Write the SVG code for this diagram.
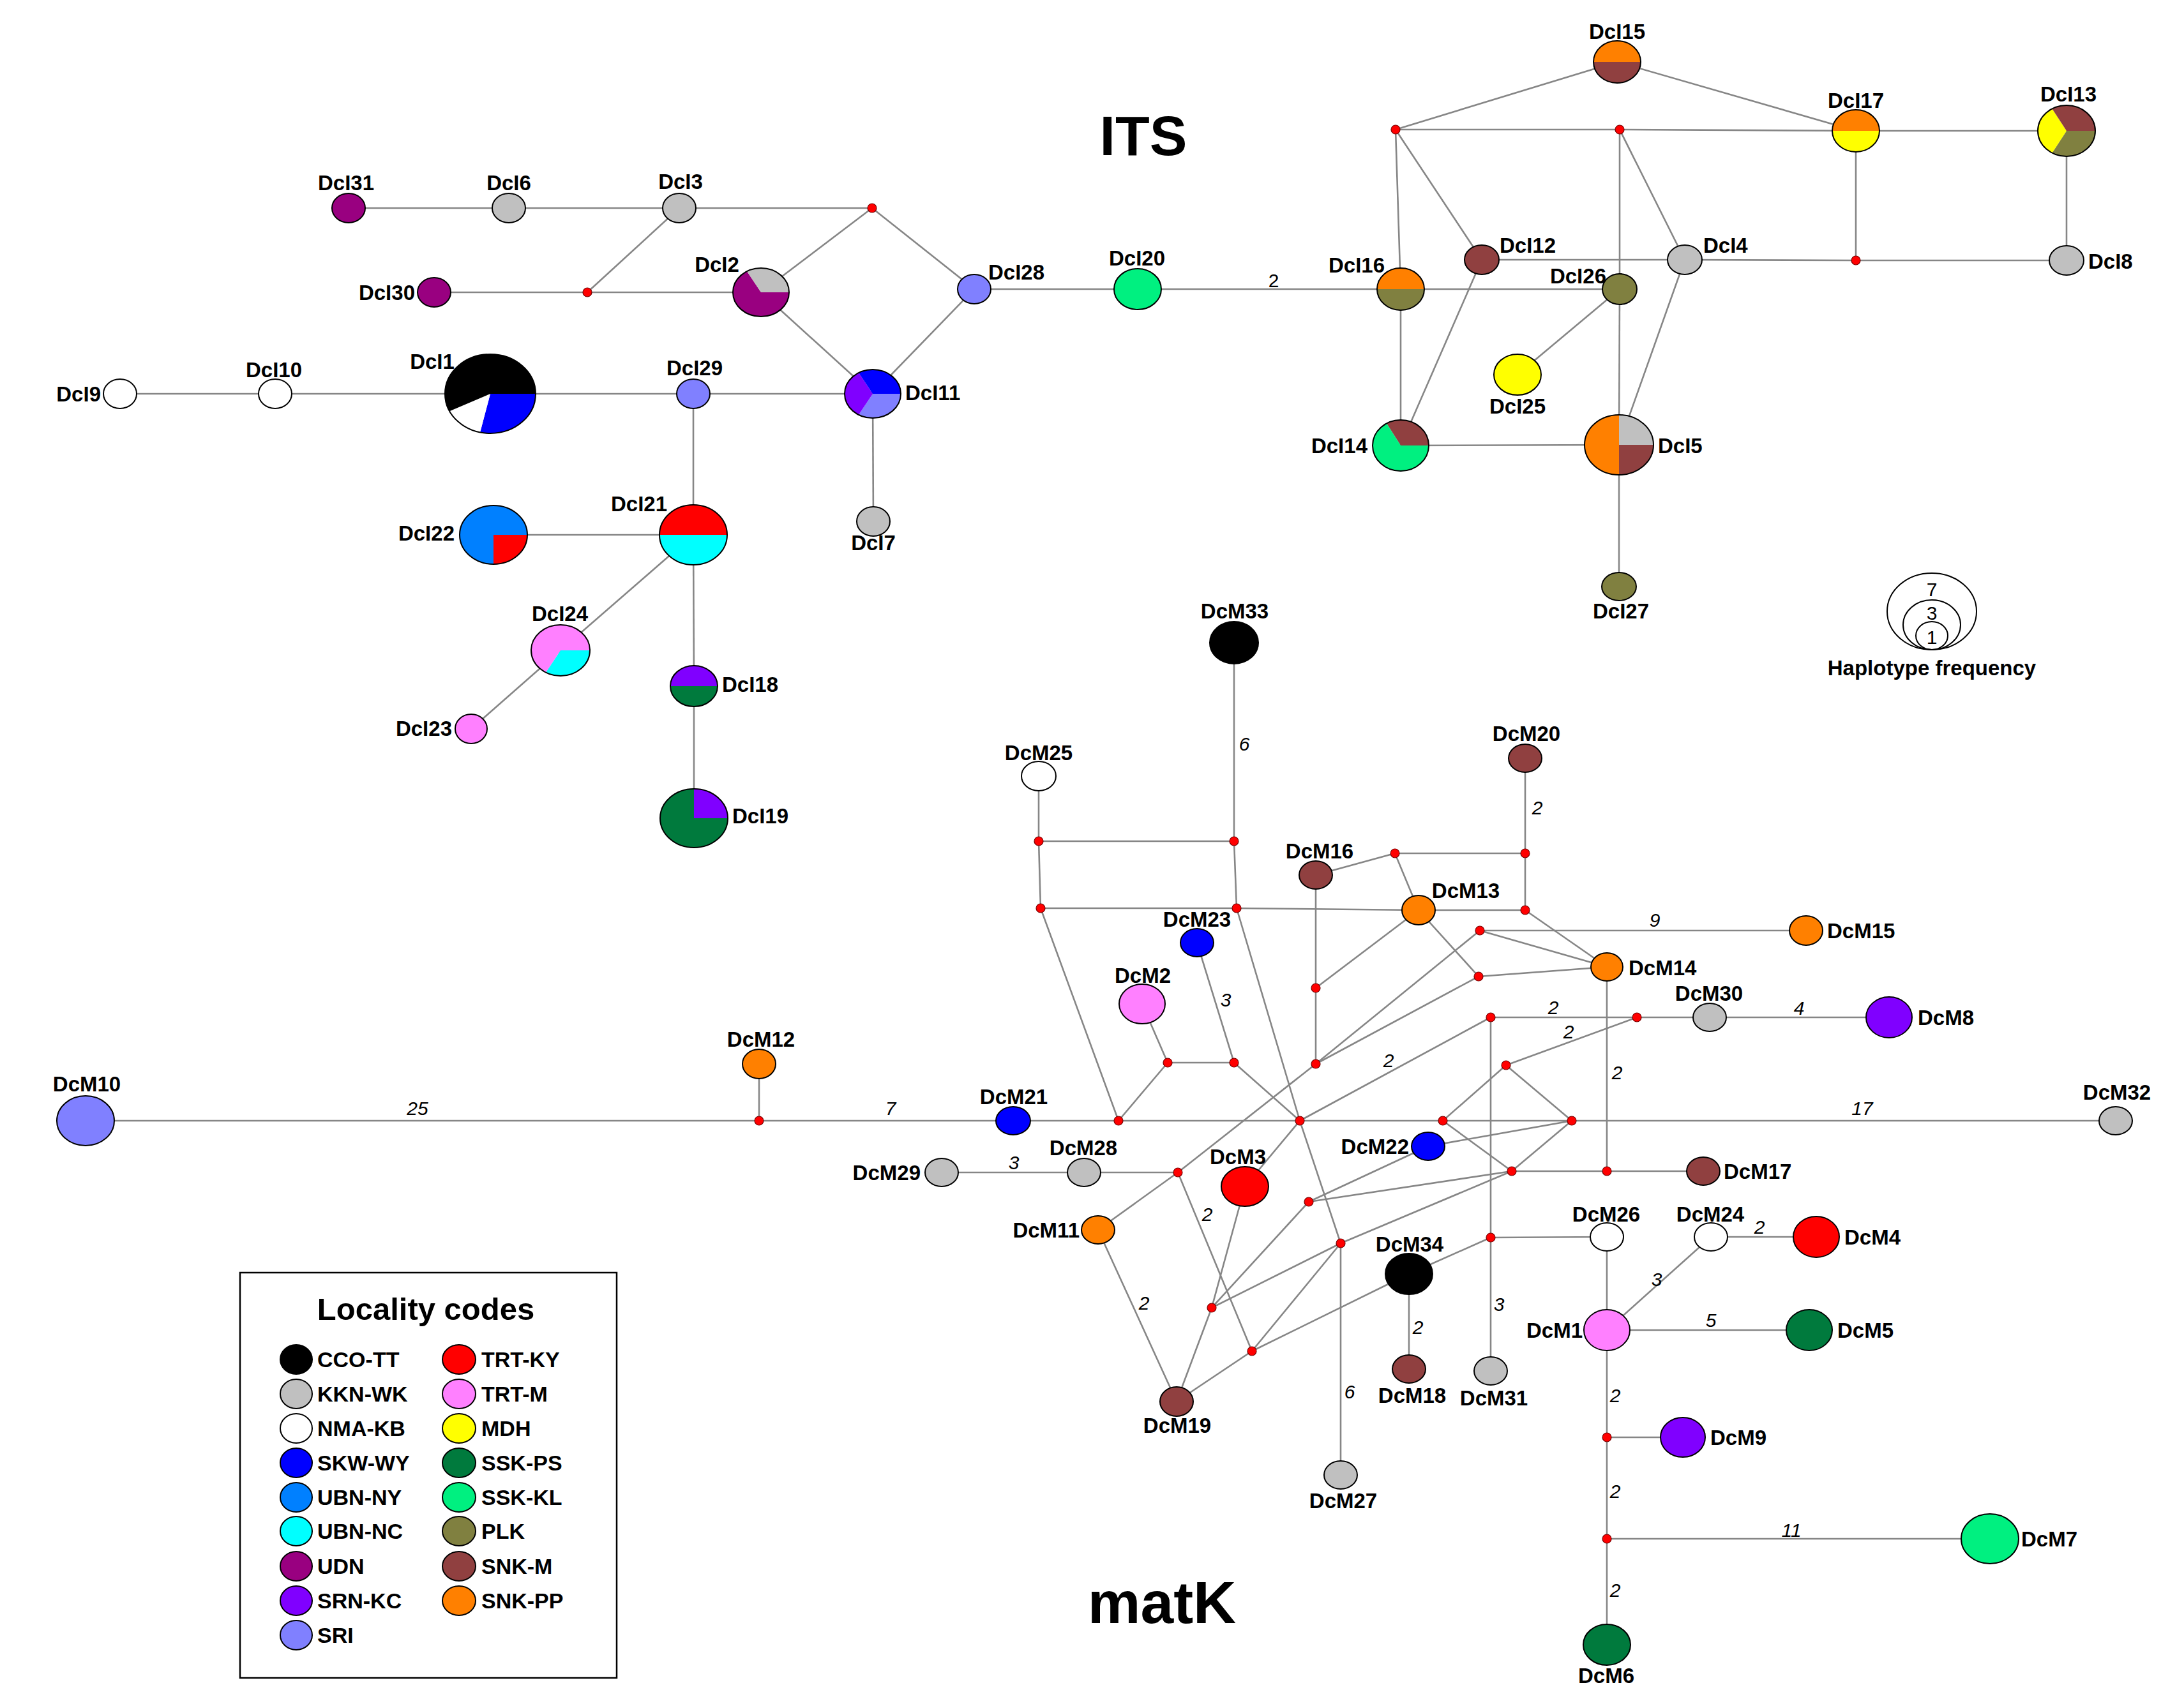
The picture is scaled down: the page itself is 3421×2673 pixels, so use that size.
<svg xmlns="http://www.w3.org/2000/svg" width="3421" height="2673" viewBox="0 0 3421 2673">
<style>
.e{stroke:#868686;stroke-width:2.6;fill:none}
.o{stroke:#000;stroke-width:2;fill:none}
.m{fill:#f00;stroke:#700;stroke-width:1.2}
.l{font-family:"Liberation Sans",Arial,sans-serif;font-weight:bold;font-size:33px;fill:#000}
.w{font-family:"Liberation Sans",Arial,sans-serif;font-style:italic;font-size:30px;fill:#000;text-anchor:middle}
.n{font-family:"Liberation Sans",Arial,sans-serif;font-size:30px;fill:#000;text-anchor:middle}
.t{font-family:"Liberation Sans",Arial,sans-serif;font-weight:bold;fill:#000;text-anchor:middle}
.lg{font-family:"Liberation Sans",Arial,sans-serif;font-weight:bold;font-size:34px;fill:#000}
.mid{text-anchor:middle}.end{text-anchor:end}
.cco{fill:#000}.kkn{fill:#c0c0c0}.nma{fill:#fff}.skw{fill:#0000ff}.uny{fill:#0080ff}.unc{fill:#00ffff}
.udn{fill:#990080}.srn{fill:#8000ff}.sri{fill:#8080ff}.tky{fill:#ff0000}.trm{fill:#ff80ff}.mdh{fill:#ffff00}
.ssp{fill:#007a3d}.ssk{fill:#00f080}.plk{fill:#808040}.snm{fill:#904040}.snp{fill:#ff8000}
</style>
<rect width="3421" height="2673" fill="#fff"/>
<text class="t" x="1791" y="243" font-size="88">ITS</text>
<text class="t" x="1820" y="2543" font-size="93">matK</text>

<g id="connectors" class="e">
<line x1="546" y1="326" x2="797" y2="326"/><line x1="797" y1="326" x2="1064" y2="326"/><line x1="1064" y1="326" x2="1366" y2="326"/>
<line x1="680" y1="458" x2="920" y2="458"/><line x1="920" y1="458" x2="1192" y2="458"/>
<line x1="920" y1="458" x2="1064" y2="326"/>
<line x1="1192" y1="458" x2="1366" y2="326"/>
<line x1="1366" y1="326" x2="1526" y2="453"/>
<line x1="1192" y1="458" x2="1367" y2="617"/>
<line x1="1526" y1="453" x2="1367" y2="617"/>
<line x1="1526" y1="453" x2="1782" y2="453"/><line x1="1782" y1="453" x2="2194" y2="453"/><line x1="2194" y1="453" x2="2537" y2="453"/>
<line x1="188" y1="617" x2="431" y2="617"/><line x1="431" y1="617" x2="768" y2="617"/><line x1="768" y1="617" x2="1086" y2="617"/><line x1="1086" y1="617" x2="1367" y2="617"/>
<line x1="1367" y1="617" x2="1368" y2="817"/>
<line x1="1086" y1="617" x2="1086" y2="838"/>
<line x1="773" y1="838" x2="1086" y2="838"/>
<line x1="1086" y1="838" x2="878" y2="1019"/><line x1="878" y1="1019" x2="738" y2="1142"/>
<line x1="1086" y1="838" x2="1087" y2="1075"/><line x1="1087" y1="1075" x2="1087" y2="1282"/>
<line x1="2194" y1="453" x2="2194" y2="698"/>
<line x1="2194" y1="453" x2="2186" y2="203"/>
<line x1="2186" y1="203" x2="2533" y2="97"/>
<line x1="2186" y1="203" x2="2321" y2="407"/>
<line x1="2186" y1="203" x2="2537" y2="203"/><line x1="2537" y1="203" x2="2907" y2="205"/><line x1="2907" y1="205" x2="3237" y2="205"/>
<line x1="2533" y1="97" x2="2907" y2="205"/>
<line x1="2537" y1="203" x2="2537" y2="453"/><line x1="2537" y1="453" x2="2536" y2="697"/>
<line x1="2537" y1="203" x2="2639" y2="407"/>
<line x1="2321" y1="407" x2="2639" y2="407"/><line x1="2639" y1="407" x2="2907" y2="408"/><line x1="2907" y1="408" x2="3237" y2="408"/>
<line x1="2907" y1="205" x2="2907" y2="408"/>
<line x1="3237" y1="205" x2="3237" y2="408"/>
<line x1="2321" y1="407" x2="2194" y2="698"/>
<line x1="2639" y1="407" x2="2536" y2="697"/>
<line x1="2537" y1="453" x2="2377" y2="587"/>
<line x1="2194" y1="698" x2="2536" y2="697"/>
<line x1="2536" y1="697" x2="2536" y2="919"/>
<line x1="134" y1="1756" x2="1189" y2="1756"/><line x1="1189" y1="1756" x2="1587" y2="1756"/><line x1="1587" y1="1756" x2="1752" y2="1756"/>
<line x1="1752" y1="1756" x2="2036" y2="1756"/><line x1="2036" y1="1756" x2="2260" y2="1756"/><line x1="2260" y1="1756" x2="2462" y2="1756"/><line x1="2462" y1="1756" x2="3314" y2="1756"/>
<line x1="1189" y1="1756" x2="1189" y2="1667"/>
<line x1="1475" y1="1837" x2="1698" y2="1837"/><line x1="1698" y1="1837" x2="1845" y2="1837"/>
<line x1="1845" y1="1837" x2="1720" y2="1927"/><line x1="1845" y1="1837" x2="2061" y2="1667"/><line x1="1845" y1="1837" x2="1961" y2="2117"/>
<line x1="1720" y1="1927" x2="1843" y2="2196"/>
<line x1="1789" y1="1573" x2="1829" y2="1665"/><line x1="1829" y1="1665" x2="1933" y2="1665"/><line x1="1829" y1="1665" x2="1752" y2="1756"/>
<line x1="1875" y1="1477" x2="1933" y2="1665"/><line x1="1933" y1="1665" x2="2036" y2="1756"/>
<line x1="1627" y1="1216" x2="1627" y2="1318"/><line x1="1627" y1="1318" x2="1933" y2="1318"/><line x1="1933" y1="1318" x2="1933" y2="1007"/>
<line x1="1627" y1="1318" x2="1630" y2="1423"/><line x1="1933" y1="1318" x2="1937" y2="1423"/><line x1="1630" y1="1423" x2="1937" y2="1423"/>
<line x1="1937" y1="1423" x2="2222" y2="1426"/><line x1="2222" y1="1426" x2="2389" y2="1426"/>
<line x1="1630" y1="1423" x2="1752" y2="1756"/>
<line x1="1937" y1="1423" x2="2036" y2="1756"/><line x1="2036" y1="1756" x2="2100" y2="1948"/><line x1="2100" y1="1948" x2="2100" y2="2311"/>
<line x1="2061" y1="1371" x2="2185" y2="1337"/><line x1="2185" y1="1337" x2="2389" y2="1337"/><line x1="2185" y1="1337" x2="2222" y2="1426"/>
<line x1="2389" y1="1188" x2="2389" y2="1337"/><line x1="2389" y1="1337" x2="2389" y2="1426"/>
<line x1="2061" y1="1371" x2="2061" y2="1548"/><line x1="2061" y1="1548" x2="2061" y2="1667"/><line x1="2061" y1="1548" x2="2222" y2="1426"/>
<line x1="2222" y1="1426" x2="2316" y2="1530"/>
<line x1="2389" y1="1426" x2="2517" y2="1515"/>
<line x1="2318" y1="1458" x2="2829" y2="1458"/><line x1="2318" y1="1458" x2="2517" y2="1515"/><line x1="2318" y1="1458" x2="2061" y2="1667"/>
<line x1="2316" y1="1530" x2="2517" y2="1515"/><line x1="2316" y1="1530" x2="2061" y2="1667"/>
<line x1="2036" y1="1756" x2="2335" y2="1594"/><line x1="2335" y1="1594" x2="2564" y2="1594"/><line x1="2564" y1="1594" x2="2678" y2="1594"/><line x1="2678" y1="1594" x2="2959" y2="1594"/>
<line x1="2359" y1="1669" x2="2564" y2="1594"/><line x1="2359" y1="1669" x2="2260" y2="1756"/><line x1="2359" y1="1669" x2="2462" y2="1756"/>
<line x1="2260" y1="1756" x2="2368" y2="1835"/><line x1="2462" y1="1756" x2="2368" y2="1835"/>
<line x1="2335" y1="1594" x2="2335" y2="1939"/><line x1="2335" y1="1939" x2="2335" y2="2148"/>
<line x1="2517" y1="1515" x2="2517" y2="1835"/><line x1="2368" y1="1835" x2="2517" y2="1835"/><line x1="2517" y1="1835" x2="2668" y2="1835"/>
<line x1="2237" y1="1796" x2="2462" y2="1756"/>
<line x1="2368" y1="1835" x2="2050" y2="1883"/><line x1="2368" y1="1835" x2="2100" y2="1948"/>
<line x1="2237" y1="1796" x2="2050" y2="1883"/>
<line x1="2050" y1="1883" x2="1898" y2="2049"/>
<line x1="2036" y1="1756" x2="1950" y2="1859"/>
<line x1="1950" y1="1859" x2="1898" y2="2049"/><line x1="1898" y1="2049" x2="1843" y2="2196"/>
<line x1="1898" y1="2049" x2="2100" y2="1948"/><line x1="1961" y1="2117" x2="2100" y2="1948"/>
<line x1="1961" y1="2117" x2="1843" y2="2196"/><line x1="1961" y1="2117" x2="2207" y2="1996"/>
<line x1="2335" y1="1939" x2="2517" y2="1938"/><line x1="2335" y1="1939" x2="2207" y2="1996"/>
<line x1="2517" y1="1938" x2="2517" y2="2084"/><line x1="2680" y1="1938" x2="2517" y2="2084"/><line x1="2680" y1="1938" x2="2845" y2="1938"/>
<line x1="2517" y1="2084" x2="2834" y2="2084"/><line x1="2517" y1="2084" x2="2517" y2="2252"/><line x1="2517" y1="2252" x2="2636" y2="2252"/>
<line x1="2517" y1="2252" x2="2517" y2="2411"/><line x1="2517" y1="2411" x2="3117" y2="2411"/><line x1="2517" y1="2411" x2="2517" y2="2577"/>
<line x1="2207" y1="1996" x2="2207" y2="2145"/>
</g>

<g id="edge-labels">
<text class="n" x="1995" y="450">2</text>
<text class="w" x="1949" y="1176">6</text>
<text class="w" x="2408" y="1276">2</text>
<text class="w" x="2592" y="1452">9</text>
<text class="w" x="1920" y="1577">3</text>
<text class="w" x="2433" y="1589">2</text>
<text class="w" x="2818" y="1590">4</text>
<text class="w" x="2457" y="1627">2</text>
<text class="w" x="2175" y="1672">2</text>
<text class="w" x="2533" y="1691">2</text>
<text class="w" x="654" y="1747">25</text>
<text class="w" x="1395" y="1747">7</text>
<text class="w" x="2917" y="1747">17</text>
<text class="w" x="1588" y="1832">3</text>
<text class="w" x="1891" y="1913">2</text>
<text class="w" x="2756" y="1933">2</text>
<text class="w" x="2595" y="2015">3</text>
<text class="w" x="1792" y="2052">2</text>
<text class="w" x="2348" y="2054">3</text>
<text class="w" x="2680" y="2079">5</text>
<text class="w" x="2221" y="2090">2</text>
<text class="w" x="2114" y="2191">6</text>
<text class="w" x="2530" y="2197">2</text>
<text class="w" x="2530" y="2347">2</text>
<text class="w" x="2806" y="2408">11</text>
<text class="w" x="2530" y="2502">2</text>
</g>

<g id="its-mv1"><circle class="m" cx="1366" cy="326" r="7"/></g>
<g id="its-mv2"><circle class="m" cx="920" cy="458" r="7"/></g>
<g id="its-mv3"><circle class="m" cx="2186" cy="203" r="7"/></g>
<g id="its-mv4"><circle class="m" cx="2537" cy="203" r="7"/></g>
<g id="its-mv5"><circle class="m" cx="2907" cy="408" r="7"/></g>

<g id="DcI31"><ellipse class="o udn" cx="546" cy="326" rx="26" ry="23"/><text class="l mid" x="542" y="298">DcI31</text></g>
<g id="DcI6"><ellipse class="o kkn" cx="797" cy="326" rx="26" ry="23"/><text class="l mid" x="797" y="298">DcI6</text></g>
<g id="DcI3"><ellipse class="o kkn" cx="1064" cy="326" rx="26" ry="23"/><text class="l mid" x="1066" y="296">DcI3</text></g>
<g id="DcI30"><ellipse class="o udn" cx="680" cy="458" rx="26" ry="23"/><text class="l end" x="650" y="470">DcI30</text></g>
<g id="DcI2">
<path class="udn" d="M1192,458 L1236,458 A44,38 0 1 1 1170,425.1 Z"/>
<path class="kkn" d="M1192,458 L1170,425.1 A44,38 0 0 1 1236,458 Z"/>
<ellipse class="o" cx="1192" cy="458" rx="44" ry="38"/><text class="l mid" x="1123" y="426">DcI2</text></g>
<g id="DcI28"><ellipse class="o sri" cx="1526" cy="453" rx="26" ry="23"/><text class="l" x="1548" y="438">DcI28</text></g>
<g id="DcI20"><ellipse class="o ssk" cx="1782" cy="453" rx="37" ry="32"/><text class="l mid" x="1781" y="416">DcI20</text></g>
<g id="DcI9"><ellipse class="o nma" cx="188" cy="617" rx="26" ry="23"/><text class="l end" x="158" y="629">DcI9</text></g>
<g id="DcI10"><ellipse class="o nma" cx="431" cy="617" rx="26" ry="23"/><text class="l mid" x="429" y="591">DcI10</text></g>
<g id="DcI1">
<path class="skw" d="M768,617 L839,617 A71,62 0 0 1 752,677.4 Z"/>
<path class="nma" d="M768,617 L752,677.4 A71,62 0 0 1 704.2,644.2 Z"/>
<path class="cco" d="M768,617 L704.2,644.2 A71,62 0 1 1 839,617 Z"/>
<ellipse class="o" cx="768" cy="617" rx="71" ry="62"/><text class="l mid" x="677" y="578">DcI1</text></g>
<g id="DcI29"><ellipse class="o sri" cx="1086" cy="617" rx="26" ry="23"/><text class="l mid" x="1088" y="588">DcI29</text></g>
<g id="DcI11">
<path class="sri" d="M1367,617 L1411,617 A44,38 0 0 1 1345,649.9 Z"/>
<path class="srn" d="M1367,617 L1345,649.9 A44,38 0 0 1 1345,584.1 Z"/>
<path class="skw" d="M1367,617 L1345,584.1 A44,38 0 0 1 1411,617 Z"/>
<ellipse class="o" cx="1367" cy="617" rx="44" ry="38"/><text class="l" x="1418" y="627">DcI11</text></g>
<g id="DcI7"><ellipse class="o kkn" cx="1368" cy="817" rx="26" ry="23"/><text class="l mid" x="1368" y="862">DcI7</text></g>
<g id="DcI22">
<path class="tky" d="M773,838 L826,838 A53,46 0 0 1 773,884 Z"/>
<path class="uny" d="M773,838 L773,884 A53,46 0 1 1 826,838 Z"/>
<ellipse class="o" cx="773" cy="838" rx="53" ry="46"/><text class="l end" x="712" y="847">DcI22</text></g>
<g id="DcI21">
<path class="tky" d="M1033,838 A53,47 0 0 1 1139,838 Z"/>
<path class="unc" d="M1139,838 A53,47 0 0 1 1033,838 Z"/>
<ellipse class="o" cx="1086" cy="838" rx="53" ry="47"/><text class="l mid" x="1001" y="801">DcI21</text></g>
<g id="DcI24">
<path class="unc" d="M878,1019 L924,1019 A46,40 0 0 1 855,1053.6 Z"/>
<path class="trm" d="M878,1019 L855,1053.6 A46,40 0 1 1 924,1019 Z"/>
<ellipse class="o" cx="878" cy="1019" rx="46" ry="40"/><text class="l mid" x="877" y="973">DcI24</text></g>
<g id="DcI23"><ellipse class="o trm" cx="738" cy="1142" rx="25" ry="23"/><text class="l end" x="708" y="1153">DcI23</text></g>
<g id="DcI18">
<path class="srn" d="M1050,1075 A37,32 0 0 1 1124,1075 Z"/>
<path class="ssp" d="M1124,1075 A37,32 0 0 1 1050,1075 Z"/>
<ellipse class="o" cx="1087" cy="1075" rx="37" ry="32"/><text class="l" x="1131" y="1084">DcI18</text></g>
<g id="DcI19">
<path class="srn" d="M1087,1282 L1087,1236 A53,46 0 0 1 1140,1282 Z"/>
<path class="ssp" d="M1087,1282 L1140,1282 A53,46 0 1 1 1087,1236 Z"/>
<ellipse class="o" cx="1087" cy="1282" rx="53" ry="46"/><text class="l" x="1147" y="1290">DcI19</text></g>
<g id="DcI15">
<path class="snp" d="M2496,97 A37,33 0 0 1 2570,97 Z"/>
<path class="snm" d="M2570,97 A37,33 0 0 1 2496,97 Z"/>
<ellipse class="o" cx="2533" cy="97" rx="37" ry="33"/><text class="l mid" x="2533" y="61">DcI15</text></g>
<g id="DcI17">
<path class="snp" d="M2870,205 A37,33 0 0 1 2944,205 Z"/>
<path class="mdh" d="M2944,205 A37,33 0 0 1 2870,205 Z"/>
<ellipse class="o" cx="2907" cy="205" rx="37" ry="33"/><text class="l mid" x="2907" y="169">DcI17</text></g>
<g id="DcI13">
<path class="plk" d="M3237,205 L3282,205 A45,40 0 0 1 3214.5,239.6 Z"/>
<path class="mdh" d="M3237,205 L3214.5,239.6 A45,40 0 0 1 3214.5,170.4 Z"/>
<path class="snm" d="M3237,205 L3214.5,170.4 A45,40 0 0 1 3282,205 Z"/>
<ellipse class="o" cx="3237" cy="205" rx="45" ry="40"/><text class="l mid" x="3240" y="159">DcI13</text></g>
<g id="DcI16">
<path class="snp" d="M2157,453 A37,33 0 0 1 2231,453 Z"/>
<path class="plk" d="M2231,453 A37,33 0 0 1 2157,453 Z"/>
<ellipse class="o" cx="2194" cy="453" rx="37" ry="33"/><text class="l mid" x="2125" y="427">DcI16</text></g>
<g id="DcI12"><ellipse class="o snm" cx="2321" cy="407" rx="27" ry="23"/><text class="l" x="2349" y="396">DcI12</text></g>
<g id="DcI4"><ellipse class="o kkn" cx="2639" cy="407" rx="27" ry="23"/><text class="l" x="2668" y="396">DcI4</text></g>
<g id="DcI8"><ellipse class="o kkn" cx="3237" cy="408" rx="27" ry="23"/><text class="l" x="3271" y="421">DcI8</text></g>
<g id="DcI26"><ellipse class="o plk" cx="2537" cy="453" rx="27" ry="24"/><text class="l end" x="2516" y="444">DcI26</text></g>
<g id="DcI25"><ellipse class="o mdh" cx="2377" cy="587" rx="37" ry="32"/><text class="l mid" x="2377" y="648">DcI25</text></g>
<g id="DcI14">
<path class="snm" d="M2194,698 L2172,663.4 A44,40 0 0 1 2238,698 Z"/>
<path class="ssk" d="M2194,698 L2238,698 A44,40 0 1 1 2172,663.4 Z"/>
<ellipse class="o" cx="2194" cy="698" rx="44" ry="40"/><text class="l end" x="2142" y="710">DcI14</text></g>
<g id="DcI5">
<path class="snp" d="M2536,697 L2536,744 A54,47 0 0 1 2536,650 Z"/>
<path class="kkn" d="M2536,697 L2536,650 A54,47 0 0 1 2590,697 Z"/>
<path class="snm" d="M2536,697 L2590,697 A54,47 0 0 1 2536,744 Z"/>
<ellipse class="o" cx="2536" cy="697" rx="54" ry="47"/><text class="l" x="2597" y="710">DcI5</text></g>
<g id="DcI27"><ellipse class="o plk" cx="2536" cy="919" rx="27" ry="22"/><text class="l mid" x="2539" y="969">DcI27</text></g>

<g id="haplotype-frequency-legend">
<ellipse class="o" cx="3026" cy="958" rx="70" ry="60"/>
<ellipse class="o" cx="3026" cy="979" rx="45" ry="39" stroke-width="1.5"/>
<ellipse class="o" cx="3026" cy="996" rx="25" ry="22"/>
<text class="n" x="3026" y="934">7</text>
<text class="n" x="3026" y="971">3</text>
<text class="n" x="3026" y="1009">1</text>
<text class="t" x="3026" y="1058" font-size="33">Haplotype frequency</text>
</g>

<g id="mv1"><circle class="m" cx="1189" cy="1756" r="7"/></g>
<g id="mv2"><circle class="m" cx="1627" cy="1318" r="7"/></g>
<g id="mv3"><circle class="m" cx="1933" cy="1318" r="7"/></g>
<g id="mv4"><circle class="m" cx="1630" cy="1423" r="7"/></g>
<g id="mv5"><circle class="m" cx="1937" cy="1423" r="7"/></g>
<g id="mv6"><circle class="m" cx="2185" cy="1337" r="7"/></g>
<g id="mv7"><circle class="m" cx="2389" cy="1337" r="7"/></g>
<g id="mv8"><circle class="m" cx="2389" cy="1426" r="7"/></g>
<g id="mv9"><circle class="m" cx="2318" cy="1458" r="7"/></g>
<g id="mv10"><circle class="m" cx="2316" cy="1530" r="7"/></g>
<g id="mv11"><circle class="m" cx="2061" cy="1548" r="7"/></g>
<g id="mv12"><circle class="m" cx="2061" cy="1667" r="7"/></g>
<g id="mv13"><circle class="m" cx="1829" cy="1665" r="7"/></g>
<g id="mv14"><circle class="m" cx="1933" cy="1665" r="7"/></g>
<g id="mv15"><circle class="m" cx="1752" cy="1756" r="7"/></g>
<g id="mv16"><circle class="m" cx="2036" cy="1756" r="7"/></g>
<g id="mv17"><circle class="m" cx="2335" cy="1594" r="7"/></g>
<g id="mv18"><circle class="m" cx="2564" cy="1594" r="7"/></g>
<g id="mv19"><circle class="m" cx="2359" cy="1669" r="7"/></g>
<g id="mv20"><circle class="m" cx="2260" cy="1756" r="7"/></g>
<g id="mv21"><circle class="m" cx="2462" cy="1756" r="7"/></g>
<g id="mv22"><circle class="m" cx="2368" cy="1835" r="7"/></g>
<g id="mv23"><circle class="m" cx="2517" cy="1835" r="7"/></g>
<g id="mv24"><circle class="m" cx="1845" cy="1837" r="7"/></g>
<g id="mv25"><circle class="m" cx="2050" cy="1883" r="7"/></g>
<g id="mv26"><circle class="m" cx="2100" cy="1948" r="7"/></g>
<g id="mv27"><circle class="m" cx="2335" cy="1939" r="7"/></g>
<g id="mv28"><circle class="m" cx="1898" cy="2049" r="7"/></g>
<g id="mv29"><circle class="m" cx="1961" cy="2117" r="7"/></g>
<g id="mv30"><circle class="m" cx="2517" cy="2252" r="7"/></g>
<g id="mv31"><circle class="m" cx="2517" cy="2411" r="7"/></g>

<g id="DcM10"><ellipse class="o sri" cx="134" cy="1756" rx="45" ry="39"/><text class="l mid" x="136" y="1710">DcM10</text></g>
<g id="DcM12"><ellipse class="o snp" cx="1189" cy="1667" rx="26" ry="23"/><text class="l mid" x="1192" y="1640">DcM12</text></g>
<g id="DcM21"><ellipse class="o skw" cx="1587" cy="1756" rx="27" ry="22"/><text class="l mid" x="1588" y="1730">DcM21</text></g>
<g id="DcM29"><ellipse class="o kkn" cx="1475" cy="1837" rx="26" ry="22"/><text class="l end" x="1442" y="1849">DcM29</text></g>
<g id="DcM28"><ellipse class="o kkn" cx="1698" cy="1837" rx="26" ry="22"/><text class="l mid" x="1697" y="1810">DcM28</text></g>
<g id="DcM3"><ellipse class="o tky" cx="1950" cy="1859" rx="37" ry="31"/><text class="l mid" x="1939" y="1824">DcM3</text></g>
<g id="DcM11"><ellipse class="o snp" cx="1720" cy="1927" rx="26" ry="22"/><text class="l end" x="1691" y="1939">DcM11</text></g>
<g id="DcM2"><ellipse class="o trm" cx="1789" cy="1573" rx="36" ry="31"/><text class="l mid" x="1790" y="1540">DcM2</text></g>
<g id="DcM23"><ellipse class="o skw" cx="1875" cy="1477" rx="26" ry="22"/><text class="l mid" x="1875" y="1452">DcM23</text></g>
<g id="DcM25"><ellipse class="o nma" cx="1627" cy="1216" rx="27" ry="23"/><text class="l mid" x="1627" y="1191">DcM25</text></g>
<g id="DcM33"><ellipse class="o cco" cx="1933" cy="1007" rx="38" ry="33"/><text class="l mid" x="1934" y="969">DcM33</text></g>
<g id="DcM16"><ellipse class="o snm" cx="2061" cy="1371" rx="26" ry="22"/><text class="l mid" x="2067" y="1345">DcM16</text></g>
<g id="DcM20"><ellipse class="o snm" cx="2389" cy="1188" rx="26" ry="22"/><text class="l mid" x="2391" y="1161">DcM20</text></g>
<g id="DcM13"><ellipse class="o snp" cx="2222" cy="1426" rx="26" ry="23"/><text class="l mid" x="2296" y="1407">DcM13</text></g>
<g id="DcM15"><ellipse class="o snp" cx="2829" cy="1458" rx="26" ry="23"/><text class="l" x="2862" y="1470">DcM15</text></g>
<g id="DcM14"><ellipse class="o snp" cx="2517" cy="1515" rx="25" ry="22"/><text class="l" x="2551" y="1528">DcM14</text></g>
<g id="DcM30"><ellipse class="o kkn" cx="2678" cy="1594" rx="26" ry="22"/><text class="l mid" x="2677" y="1568">DcM30</text></g>
<g id="DcM8"><ellipse class="o srn" cx="2959" cy="1594" rx="36" ry="32"/><text class="l" x="3004" y="1606">DcM8</text></g>
<g id="DcM32"><ellipse class="o kkn" cx="3314" cy="1756" rx="26" ry="22"/><text class="l mid" x="3316" y="1723">DcM32</text></g>
<g id="DcM22"><ellipse class="o skw" cx="2237" cy="1796" rx="26" ry="22"/><text class="l end" x="2207" y="1808">DcM22</text></g>
<g id="DcM17"><ellipse class="o snm" cx="2668" cy="1835" rx="26" ry="22"/><text class="l" x="2700" y="1847">DcM17</text></g>
<g id="DcM26"><ellipse class="o nma" cx="2517" cy="1938" rx="26" ry="22"/><text class="l mid" x="2516" y="1914">DcM26</text></g>
<g id="DcM24"><ellipse class="o nma" cx="2680" cy="1938" rx="26" ry="22"/><text class="l mid" x="2679" y="1914">DcM24</text></g>
<g id="DcM4"><ellipse class="o tky" cx="2845" cy="1938" rx="36" ry="32"/><text class="l" x="2889" y="1950">DcM4</text></g>
<g id="DcM34"><ellipse class="o cco" cx="2207" cy="1996" rx="37" ry="32"/><text class="l mid" x="2208" y="1961">DcM34</text></g>
<g id="DcM1"><ellipse class="o trm" cx="2517" cy="2084" rx="36" ry="32"/><text class="l end" x="2479" y="2096">DcM1</text></g>
<g id="DcM5"><ellipse class="o ssp" cx="2834" cy="2084" rx="36" ry="32"/><text class="l" x="2878" y="2096">DcM5</text></g>
<g id="DcM18"><ellipse class="o snm" cx="2207" cy="2145" rx="26" ry="22"/><text class="l mid" x="2212" y="2198">DcM18</text></g>
<g id="DcM31"><ellipse class="o kkn" cx="2335" cy="2148" rx="26" ry="22"/><text class="l mid" x="2340" y="2202">DcM31</text></g>
<g id="DcM19"><ellipse class="o snm" cx="1843" cy="2196" rx="26" ry="23"/><text class="l mid" x="1844" y="2245">DcM19</text></g>
<g id="DcM27"><ellipse class="o kkn" cx="2100" cy="2311" rx="26" ry="22"/><text class="l mid" x="2104" y="2363">DcM27</text></g>
<g id="DcM9"><ellipse class="o srn" cx="2636" cy="2252" rx="35" ry="31"/><text class="l" x="2679" y="2264">DcM9</text></g>
<g id="DcM7"><ellipse class="o ssk" cx="3117" cy="2411" rx="45" ry="39"/><text class="l" x="3166" y="2423">DcM7</text></g>
<g id="DcM6"><ellipse class="o ssp" cx="2517" cy="2577" rx="37" ry="32"/><text class="l mid" x="2516" y="2637">DcM6</text></g>

<g id="locality-legend">
<rect x="376" y="1994" width="590" height="635" fill="#fff" stroke="#000" stroke-width="2.5"/>
<text class="t" x="667" y="2068" font-size="49">Locality codes</text>
<ellipse class="o cco" cx="464" cy="2130" rx="25" ry="23"/><text class="lg" x="497" y="2142">CCO-TT</text>
<ellipse class="o kkn" cx="464" cy="2184" rx="25" ry="23"/><text class="lg" x="497" y="2196">KKN-WK</text>
<ellipse class="o nma" cx="464" cy="2238" rx="25" ry="23"/><text class="lg" x="497" y="2250">NMA-KB</text>
<ellipse class="o skw" cx="464" cy="2292" rx="25" ry="23"/><text class="lg" x="497" y="2304">SKW-WY</text>
<ellipse class="o uny" cx="464" cy="2346" rx="25" ry="23"/><text class="lg" x="497" y="2358">UBN-NY</text>
<ellipse class="o unc" cx="464" cy="2399" rx="25" ry="23"/><text class="lg" x="497" y="2411">UBN-NC</text>
<ellipse class="o udn" cx="464" cy="2454" rx="25" ry="23"/><text class="lg" x="497" y="2466">UDN</text>
<ellipse class="o srn" cx="464" cy="2508" rx="25" ry="23"/><text class="lg" x="497" y="2520">SRN-KC</text>
<ellipse class="o sri" cx="464" cy="2562" rx="25" ry="23"/><text class="lg" x="497" y="2574">SRI</text>
<ellipse class="o tky" cx="719" cy="2130" rx="26" ry="23"/><text class="lg" x="754" y="2142">TRT-KY</text>
<ellipse class="o trm" cx="719" cy="2184" rx="26" ry="23"/><text class="lg" x="754" y="2196">TRT-M</text>
<ellipse class="o mdh" cx="719" cy="2238" rx="26" ry="23"/><text class="lg" x="754" y="2250">MDH</text>
<ellipse class="o ssp" cx="719" cy="2292" rx="26" ry="23"/><text class="lg" x="754" y="2304">SSK-PS</text>
<ellipse class="o ssk" cx="719" cy="2346" rx="26" ry="23"/><text class="lg" x="754" y="2358">SSK-KL</text>
<ellipse class="o plk" cx="719" cy="2399" rx="26" ry="23"/><text class="lg" x="754" y="2411">PLK</text>
<ellipse class="o snm" cx="719" cy="2454" rx="26" ry="23"/><text class="lg" x="754" y="2466">SNK-M</text>
<ellipse class="o snp" cx="719" cy="2508" rx="26" ry="23"/><text class="lg" x="754" y="2520">SNK-PP</text>
</g>
</svg>
